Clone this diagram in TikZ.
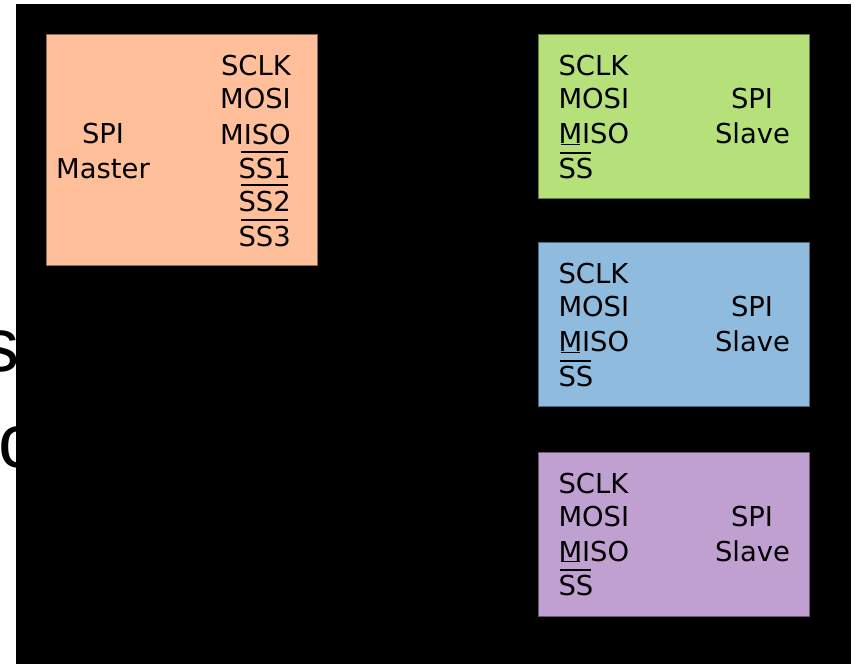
\documentclass[tikz,border=0pt]{standalone}
\usepackage{fontspec}
\setmainfont{DejaVu Sans}
\newfontfamily\bigsans{Liberation Sans}
\usetikzlibrary{calc}

\definecolor{masterfill}{RGB}{255,191,155}
\definecolor{greenfill}{RGB}{182,224,122}
\definecolor{bluefill}{RGB}{143,187,223}
\definecolor{purplefill}{RGB}{191,160,208}

\tikzset{
  unitbox/.style={draw=#1!55!black, fill=#1, line width=1pt, inner sep=0pt,
    anchor=north west},
  sig/.style={font=\fontsize{27.4}{30}\selectfont, inner sep=0pt},
  bar/.style={line width=1.7pt, black},
  bigletter/.style={font=\bigsans\fontsize{76}{76}\selectfont, inner sep=0pt}
}

\begin{document}
\begin{tikzpicture}[x=1pt, y=-1pt]
  % page and dark backdrop
  \fill[white] (0,0) rectangle (855,664);
  \useasboundingbox (0,0) rectangle (855,664);
  \begin{scope}
    \clip (0,0) rectangle (16,664);
    \node[bigletter, anchor=base] (lets) at (1,371) {s};
    \node[bigletter, anchor=base west] (letc) at (-1.5,467) {c};
  \end{scope}
  \fill[black] (16,4) rectangle (851,664);

  % master
  \node[unitbox=masterfill, minimum width=271pt, minimum height=231pt] (master) at (46,34.3) {};
  \node[sig, anchor=base] (mspi) at (103,143.6) {SPI};
  \node[sig, anchor=base] (mname) at (103,178) {Master};
  \node[sig, anchor=base east] (msclk) at (291,75.8) {SCLK};
  \node[sig, anchor=base east] (mmosi) at (291,108.6) {MOSI};
  \node[sig, anchor=base east] (mmiso) at (291,144) {MISO};
  \node[sig, anchor=base east] (mss1) at (291,178.3) {SS1};
  \node[sig, anchor=base east] (mss2) at (291,211.7) {SS2};
  \node[sig, anchor=base east] (mss3) at (291,246.7) {SS3};
  \foreach \n in {mss1,mss2,mss3}
    \draw[bar] ($(\n.base west)+(3,-26.6)$) -- ($(\n.base east)+(-3.5,-26.6)$);

  % slaves
  \foreach \c/\t/\k in {greenfill/34.3/a, bluefill/242.3/b, purplefill/451.7/c}{
    \node[unitbox=\c, minimum width=270.4pt, minimum height=164pt] (slave\k) at (538.3,\t) {};
    \node[sig, anchor=base west] (sclk\k) at (558.3,\t+41.5) {SCLK};
    \node[sig, anchor=base west] (mosi\k) at (558.3,\t+74.6) {MOSI};
    \node[sig, anchor=base west] (miso\k) at (558.3,\t+109.5) {MISO};
    \node[sig, anchor=base west] (ss\k) at (558.3,\t+144) {SS};
    \node[sig, anchor=base] (spi\k) at (752,\t+74.6) {SPI};
    \node[sig, anchor=base] (sname\k) at (752.5,\t+109.5) {Slave};
    \draw[bar] ($(ss\k.base west)+(1.7,-25.5)$) -- ($(ss\k.base east)+(-2.3,-25.5)$);
    \draw[line width=1.2pt] ($(miso\k.base west)+(2.5,0.4)$) -- ($(miso\k.base west)+(21.5,0.4)$);
  }
\end{tikzpicture}
\end{document}
